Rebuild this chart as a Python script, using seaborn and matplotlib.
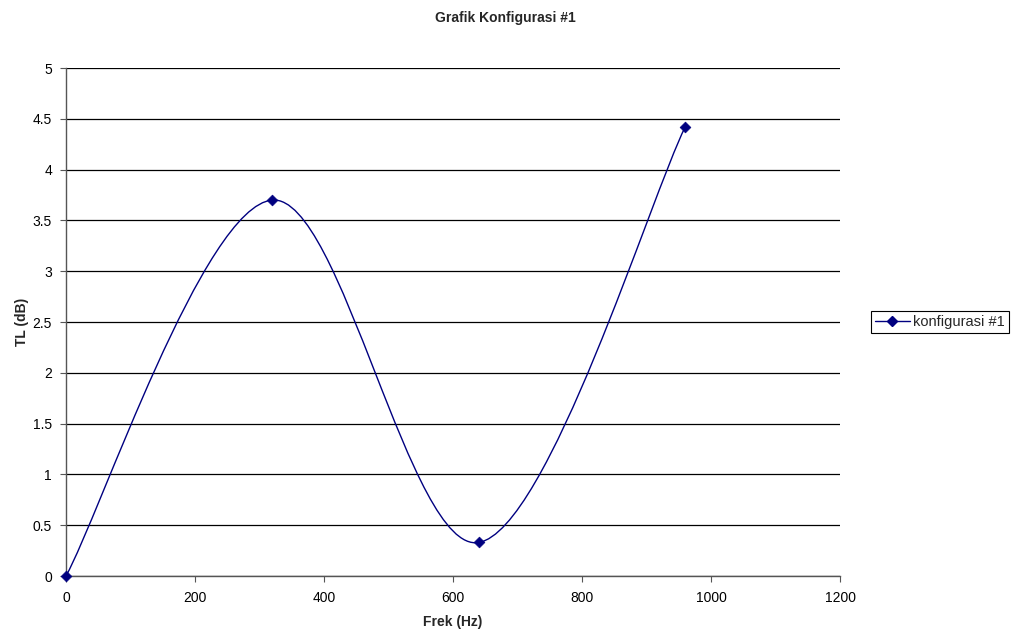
import numpy as np
import matplotlib
matplotlib.use("Agg")
import matplotlib.pyplot as plt
import seaborn as sns
from matplotlib.path import Path
from matplotlib.patches import PathPatch
from matplotlib.lines import Line2D
from matplotlib import font_manager

# Data
freq_hz = [0, 320, 640, 960]
tl_db = [0.0, 3.70, 0.33, 4.42]
series_name = "konfigurasi #1"
title_text = "Grafik Konfigurasi #1"
x_label = "Frek (Hz)"
y_label = "TL (dB)"
x_ticks = [0, 200, 400, 600, 800, 1000, 1200]
y_ticks = [0, 0.5, 1, 1.5, 2, 2.5, 3, 3.5, 4, 4.5, 5]

sns.set_theme(style="white")
plt.rcParams["font.family"] = ["Liberation Sans", "DejaVu Sans"]

names = {f.name for f in font_manager.fontManager.ttflist}
title_family = ["Liberation Sans Narrow"] if "Liberation Sans Narrow" in names else ["Liberation Sans"]

NAVY = "#000080"

fig = plt.figure(figsize=(10.15, 6.34), dpi=100)
ax = fig.add_axes([66 / 1015, 1 - 576 / 634, (840 - 66) / 1015, (576 - 68) / 634])

# Excel-style smoothed curve (Bezier through the data points)
xs = np.asarray(freq_hz, float)
ys = np.asarray(tl_db, float)
n = len(xs)
verts = [(xs[0], ys[0])]
codes = [Path.MOVETO]
for i in range(n - 1):
    p0 = np.array([xs[max(i - 1, 0)], ys[max(i - 1, 0)]])
    p1 = np.array([xs[i], ys[i]])
    p2 = np.array([xs[i + 1], ys[i + 1]])
    p3 = np.array([xs[min(i + 2, n - 1)], ys[min(i + 2, n - 1)]])
    c1 = p1 + (p2 - p0) / 6.0
    c2 = p2 - (p3 - p1) / 6.0
    verts += [tuple(c1), tuple(c2), tuple(p2)]
    codes += [Path.CURVE4] * 3
ax.add_patch(PathPatch(Path(verts, codes), facecolor="none", edgecolor=NAVY, lw=1.0, zorder=3))

sns.scatterplot(x=freq_hz, y=tl_db, marker="D", color=NAVY, s=30, edgecolor=NAVY,
                linewidth=0.5, ax=ax, zorder=4, clip_on=False)

ax.set_xlim(0, 1200)
ax.set_ylim(0, 5)
ax.set_xticks(x_ticks)
ax.set_xticklabels([str(t) for t in x_ticks])
ax.set_yticks(y_ticks)
ax.set_yticklabels([("%g" % t) for t in y_ticks])
ax.tick_params(axis="both", labelsize=10, labelcolor="black", color="#555555",
               length=4, width=0.8, direction="out")
ax.tick_params(axis="x", pad=7)
ax.tick_params(axis="y", pad=6)
ax.xaxis.set_ticks_position("bottom")
ax.yaxis.set_ticks_position("left")

ax.grid(axis="y", color="black", lw=0.9)
ax.grid(axis="x", visible=False)
ax.set_axisbelow(True)
for s in ["top", "right"]:
    ax.spines[s].set_visible(False)
for s in ["left", "bottom"]:
    ax.spines[s].set_color("#555555")
    ax.spines[s].set_linewidth(1.0)

ax.set_xlabel(x_label, fontsize=10, fontweight="bold", labelpad=7)
ax.set_ylabel(y_label, fontsize=10, fontweight="bold", labelpad=3)

fig.text(505 / 1015, 1 - 18 / 634, title_text, ha="center", va="center",
         fontsize=10, fontweight="bold", family=title_family)

handle = Line2D([0], [0], color=NAVY, lw=1.0, marker="D", markersize=5,
                markerfacecolor=NAVY, markeredgecolor=NAVY)
leg = fig.legend(handles=[handle], labels=[series_name], loc="center left",
                 bbox_to_anchor=(871 / 1015, 1 - 322 / 634), fontsize=10.5,
                 frameon=True, fancybox=False, edgecolor="black", framealpha=1,
                 handlelength=2.4, handletextpad=0.25, borderpad=0.25,
                 borderaxespad=0)
leg.get_frame().set_linewidth(0.8)

fig.savefig("out.png", dpi=100)
